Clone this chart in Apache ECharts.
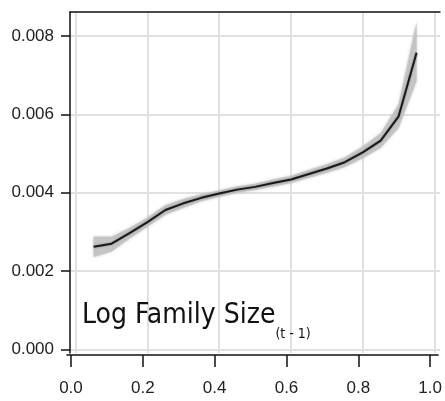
<!DOCTYPE html>
<html>
<head>
<meta charset="utf-8">
<script src="https://cdn.jsdelivr.net/npm/echarts@6/dist/echarts.min.js"></script>
<style>
html,body{margin:0;padding:0;background:#fff;}
#c{width:445px;height:401px;}
</style>
</head>
<body>
<div id="c"></div>
<script>
const xVals   = [0.05,0.10,0.15,0.20,0.25,0.30,0.35,0.40,0.45,0.50,0.55,0.60,0.65,0.70,0.75,0.80,0.85,0.90,0.95];
const fitVals = [0.00262,0.00270,0.00297,0.00325,0.00356,0.00373,0.00387,0.00398,0.00408,0.00415,0.00425,0.00434,0.00448,0.00462,0.00478,0.00503,0.00533,0.00595,0.00757];
const loVals  = [0.00236,0.00250,0.00283,0.00313,0.00344,0.00362,0.00378,0.00390,0.00400,0.00407,0.00416,0.00425,0.00438,0.00451,0.00466,0.00488,0.00515,0.00566,0.00685];
const hiVals  = [0.00288,0.00288,0.00310,0.00337,0.00368,0.00384,0.00396,0.00406,0.00416,0.00423,0.00434,0.00443,0.00458,0.00473,0.00490,0.00518,0.00552,0.00626,0.00835];
const xTicks  = [0, 0.2, 0.4, 0.6, 0.8, 1.0];
const yTicks  = [0, 0.002, 0.004, 0.006, 0.008];
const labelMain = 'Log Family Size';
const labelSub  = '(t - 1)';

const chart = echarts.init(document.getElementById('c'), null, {renderer:'canvas'});
const fitData   = xVals.map((x,i)=>[x, fitVals[i]]);
const grey = '#e1e1e1';
const labelFont = "'Liberation Sans', Arial, sans-serif";
const narrowFont = "'Liberation Sans Narrow','DejaVu Sans Condensed',sans-serif";

chart.setOption({
  animation:false,
  backgroundColor:'#fff',
  grid:[
    {left:70, right:5, top:12, bottom:48},
    {left:67, right:5, top:340, bottom:46}
  ],
  xAxis:[
    {type:'value', gridIndex:0, position:'bottom', min:-0.01589, max:1.01533,
     axisLine:{show:false}, axisTick:{show:false, customValues:xTicks},
     axisLabel:{show:false}, splitLine:{show:true, lineStyle:{color:grey, width:2}}},
    {type:'value', gridIndex:0, position:'top', min:-0.01589, max:1.01533,
     axisLine:{show:true, lineStyle:{color:'#111', width:1.5}}, axisTick:{show:false},
     axisLabel:{show:false}, splitLine:{show:false}},
    {type:'value', gridIndex:1, position:'bottom', min:-0.01108, max:1.02216,
     axisLine:{show:true, onZero:false, lineStyle:{color:'#111', width:1.5}},
     axisTick:{show:true, customValues:xTicks, length:12, lineStyle:{color:'#111', width:1.5}},
     axisLabel:{show:true, customValues:xTicks, margin:25, fontSize:17, color:'#222', fontFamily:labelFont,
       formatter:v=>v.toFixed(1)},
     splitLine:{show:false}}
  ],
  yAxis:[
    {type:'value', gridIndex:0, min:-0.0000893, max:0.0086124,
     axisLine:{show:true, onZero:false, lineStyle:{color:'#111', width:1.5}},
     axisTick:{show:true, customValues:yTicks, length:9, lineStyle:{color:'#111', width:1.5}},
     axisLabel:{show:true, customValues:yTicks, margin:16, fontSize:17, color:'#222', fontFamily:labelFont,
       formatter:v=>v.toFixed(3)},
     splitLine:{show:true, lineStyle:{color:grey, width:2}}},
    {type:'value', gridIndex:1, show:false, min:0, max:1}
  ],
  series:[
    {type:'custom', xAxisIndex:0, yAxisIndex:0, data:[0], silent:true, z:2,
     renderItem:(params, api)=>{
       const pts = [];
       for (let i=0;i<xVals.length;i++) pts.push(api.coord([xVals[i], hiVals[i]]));
       for (let i=xVals.length-1;i>=0;i--) pts.push(api.coord([xVals[i], loVals[i]]));
       return {type:'polygon', shape:{points:pts},
         style:{fill:'#c4c4c4', shadowBlur:3, shadowColor:'#c4c4c4'}};
     }},
    {type:'line', xAxisIndex:0, yAxisIndex:0, data:fitData, symbol:'none', z:3,
     lineStyle:{color:'#1a1a1a', width:2, shadowBlur:2, shadowColor:'rgba(0,0,0,0.35)'}}
  ],
  graphic:[
    {type:'text', left:82, top:302, z:10,
     style:{
       text:'{a|'+labelMain+'}{b|'+labelSub+'}',
       rich:{
         a:{fontSize:28, fontFamily:narrowFont, fill:'#111', lineHeight:32, verticalAlign:'top'},
         b:{fontSize:14, fontFamily:narrowFont, fill:'#111', lineHeight:14, verticalAlign:'top', padding:[25,0,0,0]}
       }
     }}
  ]
});
</script>
</body>
</html>
